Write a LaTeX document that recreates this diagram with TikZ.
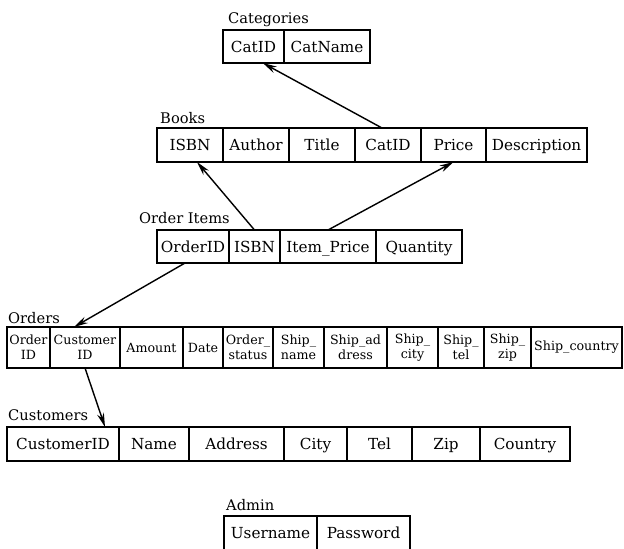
\documentclass[tikz,border=0pt]{standalone}
\usepackage{fontspec}
\setmainfont{DejaVu Serif}
\usetikzlibrary{arrows.meta, positioning}

\begin{document}
\begin{tikzpicture}[
    x=0.03cm, y=-0.03cm,
    fbase/.style={draw, line width=1.2pt, outer sep=0pt, inner xsep=1pt, inner ysep=1pt, align=center},
    fld/.style={fbase, minimum height=1.02cm, text height=2.3ex, text depth=0.45ex, font=\fontsize{13}{15}\selectfont},
    ofld/.style={fbase, minimum height=1.23cm, font=\fontsize{10.8}{12.5}\selectfont},
    tname/.style={anchor=base west, inner sep=0pt, font=\fontsize{12.5}{14}\selectfont},
    fk/.style={-{Stealth[length=12pt, width=6pt]}, line width=1.2pt},
]
\useasboundingbox (0,0) rectangle (624,548);

% Categories
\node[tname] (catlbl) at (228, 23) {Categories};
\node[fld, anchor=north west, minimum width=1.83cm, minimum height=0.99cm] (ct1) at (223, 30) {CatID};
\node[fld, minimum width=2.58cm, minimum height=0.99cm, right=0pt of ct1] (ct2) {CatName};

% Books
\node[tname] (bklbl) at (160, 123) {Books};
\node[fld, anchor=north west, minimum width=1.98cm] (bk1) at (157, 128) {ISBN};
\node[fld, minimum width=1.98cm, right=0pt of bk1] (bk2) {Author};
\node[fld, minimum width=1.98cm, right=0pt of bk2] (bk3) {Title};
\node[fld, minimum width=1.98cm, right=0pt of bk3] (bk4) {CatID};
\node[fld, minimum width=1.95cm, right=0pt of bk4] (bk5) {Price};
\node[fld, minimum width=3.03cm, right=0pt of bk5] (bk6) {Description};

% Order Items
\node[tname] (oilbl) at (139, 223) {Order Items};
\node[fld, anchor=north west, minimum width=2.16cm, minimum height=0.99cm] (oi1) at (157, 230) {OrderID};
\node[fld, minimum width=1.53cm, minimum height=0.99cm, right=0pt of oi1] (oi2) {ISBN};
\node[fld, minimum width=2.88cm, minimum height=0.99cm, right=0pt of oi2] (oi3) {Item\_Price};
\node[fld, minimum width=2.58cm, minimum height=0.99cm, right=0pt of oi3] (oi4) {Quantity};

% Orders
\node[tname] (orlbl) at (8, 323) {Orders};
\node[ofld, anchor=north west, minimum width=1.29cm] (or1) at (7, 327) {Order\\ID};
\node[ofld, minimum width=2.10cm, right=0pt of or1] (or2) {Customer\\ID};
\node[ofld, minimum width=1.89cm, right=0pt of or2] (or3) {Amount};
\node[ofld, minimum width=1.20cm, right=0pt of or3] (or4) {Date};
\node[ofld, minimum width=1.50cm, right=0pt of or4] (or5) {Order\_\\status};
\node[ofld, minimum width=1.53cm, right=0pt of or5] (or6) {Ship\_\\name};
\node[ofld, minimum width=1.89cm, right=0pt of or6] (or7) {Ship\_ad\\dress};
\node[ofld, minimum width=1.53cm, right=0pt of or7] (or8) {Ship\_\\city};
\node[ofld, minimum width=1.38cm, right=0pt of or8] (or9) {Ship\_\\tel};
\node[ofld, minimum width=1.41cm, right=0pt of or9] (or10) {Ship\_\\zip};
\node[ofld, minimum width=2.73cm, right=0pt of or10] (or11) {Ship\_country};

% Customers
\node[tname] (culbl) at (8, 420) {Customers};
\node[fld, anchor=north west, minimum width=3.36cm] (cu1) at (7, 427) {CustomerID};
\node[fld, minimum width=2.10cm, right=0pt of cu1] (cu2) {Name};
\node[fld, minimum width=2.85cm, right=0pt of cu2] (cu3) {Address};
\node[fld, minimum width=1.89cm, right=0pt of cu3] (cu4) {City};
\node[fld, minimum width=1.95cm, right=0pt of cu4] (cu5) {Tel};
\node[fld, minimum width=2.04cm, right=0pt of cu5] (cu6) {Zip};
\node[fld, minimum width=2.70cm, right=0pt of cu6] (cu7) {Country};

% Admin
\node[tname] (adlbl) at (226, 510) {Admin};
\node[fld, anchor=north west, minimum width=2.79cm] (ad1) at (224, 516) {Username};
\node[fld, minimum width=2.79cm, right=0pt of ad1] (ad2) {Password};

% foreign keys
\draw[fk] ([xshift=-0.18cm]bk4.north) -- ([xshift=0.28cm]ct1.south);
\draw[fk] (oi2.north) -- ([xshift=0.21cm]bk1.south);
\draw[fk] (oi3.north) -- (bk5.south);
\draw[fk] ([xshift=-0.24cm]oi1.south) -- ([xshift=-0.33cm]or2.north);
\draw[fk] (or2.south) -- ([xshift=-0.42cm]cu1.north east);

\end{tikzpicture}
\end{document}
